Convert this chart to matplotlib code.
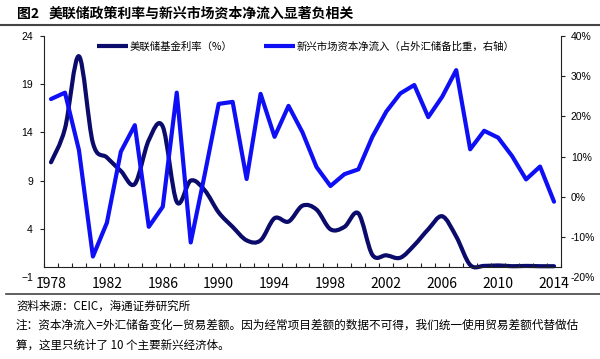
import matplotlib
matplotlib.use("Agg")
import matplotlib.pyplot as plt
from matplotlib.path import Path
from matplotlib.patches import PathPatch
from matplotlib.lines import Line2D
from matplotlib.ticker import FuncFormatter, FixedLocator

plt.rcParams['font.family'] = ['Noto Sans CJK SC', 'DejaVu Sans']

years = list(range(1978, 2015))
fed_rate = [10.9, 14.4, 21.9, 12.9, 11.4, 10.0, 8.65, 13.2, 14.6, 6.8,
            9.0, 8.0, 5.7, 4.2, 2.8, 2.8, 5.1, 4.75, 6.4, 6.0,
            3.95, 4.2, 5.6, 1.3, 1.25, 1.0, 2.3, 3.95, 5.3, 3.2,
            0.25, 0.15, 0.2, 0.12, 0.15, 0.12, 0.12]
em_inflow = [24.3, 25.9, 11.6, -14.9, -6.5, 11.2, 17.8, -7.5, -2.5, 25.9,
             -11.4, 5.5, 23.1, 23.6, 4.4, 25.6, 14.9, 22.6, 16.0, 7.4,
             2.65, 5.6, 6.8, 14.9, 21.2, 25.7, 27.8, 19.8, 24.9, 31.5,
             11.8, 16.4, 14.7, 10.1, 4.3, 7.5, -1.25]
label_years = [1978, 1982, 1986, 1990, 1994, 1998, 2002, 2006, 2010, 2014]
left_ticks = [-1, 4, 9, 14, 19, 24]
right_ticks = [-20, -10, 0, 10, 20, 30, 40]

title_no = "图2"
title = "美联储政策利率与新兴市场资本净流入显著负相关"
legend_labels = ["美联储基金利率（%）", "新兴市场资本净流入（占外汇储备比重，右轴）"]
source = "资料来源：CEIC，海通证券研究所"
note1 = "注：资本净流入=外汇储备变化—贸易差额。因为经常项目差额的数据不可得，我们统一使用贸易差额代替做估"
note2 = "算，这里只统计了 10 个主要新兴经济体。"

dark = "#0b0b6b"
bright = "#0f0ff5"
W, H = 600, 359

fig = plt.figure(figsize=(6, 3.59), dpi=100)
ax = fig.add_axes([44 / W, 1 - 277 / H, (561 - 44) / W, (277 - 36) / H])
ax2 = ax.twinx()

# smoothed (Excel-style) line for fed rate via cubic Bezier path
def smooth_path(xs, ys):
    n = len(xs)
    verts = [(xs[0], ys[0])]
    codes = [Path.MOVETO]
    for i in range(n - 1):
        x0, y0 = (xs[i - 1], ys[i - 1]) if i > 0 else (xs[i], ys[i])
        x1, y1 = xs[i], ys[i]
        x2, y2 = xs[i + 1], ys[i + 1]
        x3, y3 = (xs[i + 2], ys[i + 2]) if i + 2 < n else (x2, y2)
        c1 = (x1 + (x2 - x0) / 6.0, y1 + (y2 - y0) / 6.0)
        c2 = (x2 - (x3 - x1) / 6.0, y2 - (y3 - y1) / 6.0)
        verts += [c1, c2, (x2, y2)]
        codes += [Path.CURVE4] * 3
    return Path(verts, codes)

patch = PathPatch(smooth_path(years, fed_rate), facecolor='none', edgecolor=dark,
                  lw=3.0, capstyle='round', joinstyle='round', transform=ax.transData)
ax.add_patch(patch)
ax2.plot(years, em_inflow, color=bright, lw=3.0, solid_joinstyle='round',
         solid_capstyle='round')

ax.set_xlim(1977.5, 2014.5)
ax.set_ylim(-1, 24)
ax2.set_ylim(-20, 40)

ax.set_yticks(left_ticks)
ax2.set_yticks(right_ticks)
ax2.yaxis.set_major_formatter(FuncFormatter(lambda v, p: f"{int(v)}%"))
ax.set_xticks(label_years)
ax.xaxis.set_minor_locator(FixedLocator([y + 0.5 for y in range(1977, 2015)]))

for lab in ax.get_yticklabels() + ax2.get_yticklabels() + ax.get_xticklabels():
    lab.set_fontfamily('Liberation Sans')
    lab.set_fontsize(7.5)

for s in ['top', 'right']:
    ax.spines[s].set_visible(False)
for s in ['top', 'left', 'bottom']:
    ax2.spines[s].set_visible(False)
ax.spines['bottom'].set_position(('data', 0))
ax.spines['left'].set_bounds(0, 24)
ax2.spines['right'].set_bounds(-20 + 60 / 25, 40)
for sp in [ax.spines['left'], ax.spines['bottom'], ax2.spines['right']]:
    sp.set_linewidth(0.8)
    sp.set_color('#222222')

ax.tick_params(axis='y', direction='out', length=3, width=0.8, pad=5, color='#222222')
ax2.tick_params(axis='y', direction='out', length=3, width=0.8, pad=4, color='#222222')
ax.tick_params(axis='x', which='major', length=0, pad=7)
ax.tick_params(axis='x', which='minor', direction='in', length=3, width=0.8, color='#222222')

handles = [Line2D([], [], color=dark, lw=3, solid_capstyle='butt'),
           Line2D([], [], color=bright, lw=3, solid_capstyle='butt')]
leg = ax2.legend(handles, legend_labels, loc='center left',
                 bbox_to_anchor=(97 / W, 1 - 47 / H), bbox_transform=fig.transFigure,
                 frameon=False, ncol=2, handlelength=3.0, handletextpad=0.15,
                 columnspacing=3.0, borderpad=0, borderaxespad=0,
                 prop={'family': ['Noto Sans CJK SC', 'DejaVu Sans'], 'size': 7.5})

fig.text(17 / W, 1 - 14 / H, title_no, fontsize=10, fontweight='bold', va='center',
         family=['Noto Sans CJK SC', 'DejaVu Sans'])
fig.text(49 / W, 1 - 14 / H, title, fontsize=10, fontweight='bold', va='center',
         family=['Noto Sans CJK SC', 'DejaVu Sans'])
fig.add_artist(Line2D([0, 1], [1 - 25 / H, 1 - 25 / H], transform=fig.transFigure,
                      color='#444444', lw=1.5))
fig.add_artist(Line2D([0.01, 1], [1 - 294 / H, 1 - 294 / H], transform=fig.transFigure,
                      color='#444444', lw=1.2))
fig.text(16 / W, 1 - 306 / H, source, fontsize=8.3, va='center')
fig.text(16 / W, 1 - 325 / H, note1, fontsize=8.4, va='center')
fig.text(16 / W, 1 - 345 / H, note2, fontsize=8.3, va='center')

fig.savefig("out.png", dpi=100)
